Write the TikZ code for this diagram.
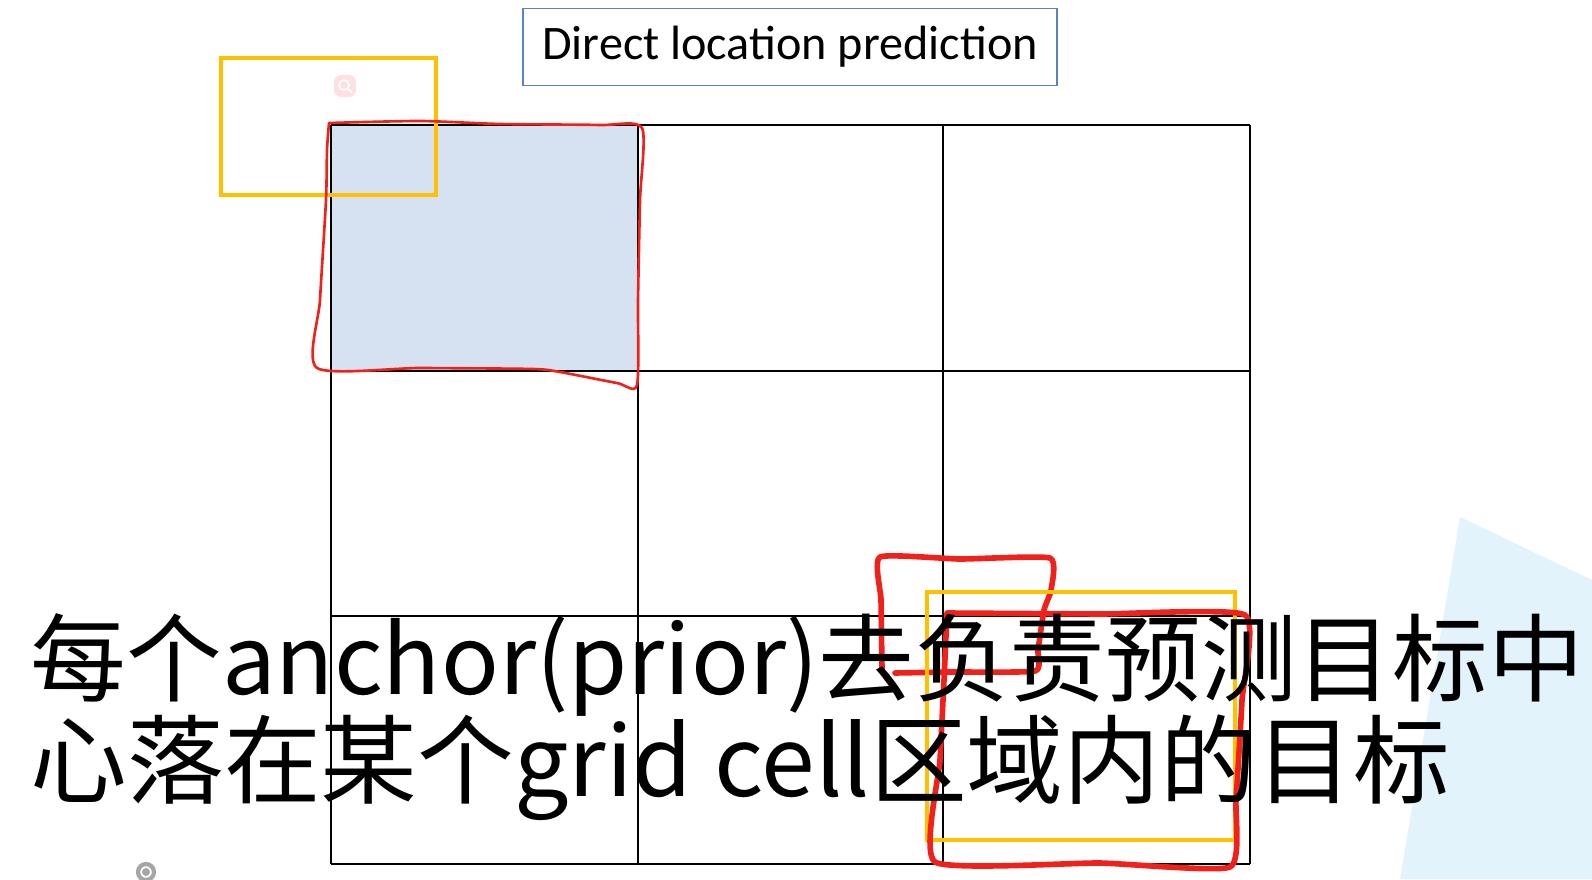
\documentclass[tikz,border=0pt]{standalone}
\usepackage{fontspec}
\setmainfont{Carlito}
\newfontfamily\cjk{Noto Sans CJK SC}
\usetikzlibrary{positioning}

\definecolor{cellblue}{HTML}{D6E2F2}
\definecolor{boxyellow}{HTML}{FFC000}
\definecolor{penred}{HTML}{F0201A}
\definecolor{titleblue}{HTML}{5A82C8}
\definecolor{bgcyan}{HTML}{E3F3FC}

\tikzset{
  gridline/.style={line width=0.6pt, black},
  yellowbox/.style={draw=boxyellow, line width=1.3pt},
  penthin/.style={draw=penred, line width=0.75pt, line join=round, line cap=round},
  penthick/.style={draw=penred, line width=1.6pt, line join=round, line cap=round},
  titlebox/.style={draw=titleblue, line width=0.45pt, minimum width=152pt, minimum height=22pt, inner sep=0pt, font=\fontsize{13.7}{16}\selectfont},
  subtitle/.style={anchor=base west, inner sep=0pt, font=\cjk\fontsize{27.5}{30}\selectfont}
}

\begin{document}
\begin{tikzpicture}[x=0.01cm, y=-0.01cm]
	% Parameters
	\def\gl{331}   % grid left
	\def\gr{1250}  % grid right
	\def\gt{125}   % grid top
	\def\gb{864}   % grid bottom
	
	\useasboundingbox (0,0) rectangle (1592,879);
	
	% Light background shape on the right
	\fill[bgcyan] (1460,517) -- (1592,580) -- (1592,879) -- (1400,879) -- cycle;
	
	% Shaded cell
	\fill[cellblue] (\gl,\gt) rectangle (638,371);
	
	% Draw grid
	\foreach \x in {331,638,943,1250}
		\draw[gridline] (\x,\gt) -- (\x,\gb);
	\foreach \y in {125,371,616,864}
		\draw[gridline] (\gl,\y) -- (\gr,\y);
	
	% Title
	\node[titlebox] (title) at (790,47) {Direct location prediction};
	
	% Faint search icon
	\fill[red!12, rounded corners=2pt] (334,75) rectangle (356,97);
	\draw[white, line width=0.5pt] (344,85) circle (5) (348,89) -- (352,93);
	
	% Anchor box top left
	\draw[yellowbox] (221,58) rectangle (436,195);
	
	% Hand drawn cell outline
	\draw[penthin] plot[smooth, tension=0.4] coordinates {(329,123) (420,121) (500,124) (600,125) (642,128) (640,200) (638,300) (637,385) (617,383) (560,372) (533,369) (420,368) (317,368) (320,300) (326,200) (327,150) (329,123)};
	
	% Small hand drawn box
	\draw[penthick] plot[smooth, tension=0.3] coordinates {(882,670) (881,600) (880,557) (960,559) (1050,558) (1051,590) (1044,610) (1038,650) (1035,671) (950,672) (895,673)};
	
	% Predicted box bottom right
	\draw[yellowbox, line width=1.1pt] (927,592) rectangle (1235,840);
	
	% Hand drawn box bottom right
	\draw[penthick] plot[smooth, tension=0.3] coordinates {(947,613) (1100,614) (1245,615) (1242,700) (1236,800) (1230,867) (1100,863) (935,862) (940,760) (944,680) (947,613)};
	
	% Toolbar icon
	\draw[gray!70, line width=1.2pt] (146,872) circle (8);
	\fill[gray!70] (146,872) circle (4);
	
	% Subtitles
	\node[subtitle, font=\cjk\fontsize{27.2}{30}\selectfont] (capA) at (30,694) {每个anchor(prior)去负责预测目标中};
	\node[subtitle] (capB) at (30,796) {心落在某个grid cell区域内的目标};
	
\end{tikzpicture}
\end{document}
